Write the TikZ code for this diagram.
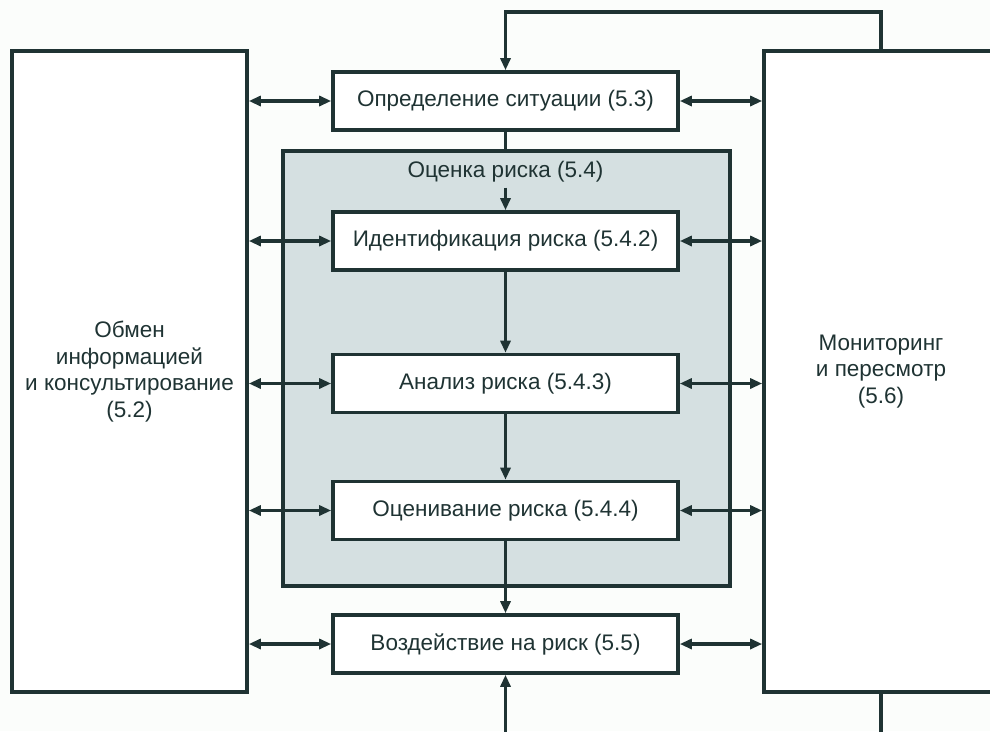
\documentclass[tikz,border=0pt]{standalone}
\usepackage{fontspec}
\setmainfont{Liberation Sans}
\usetikzlibrary{arrows.meta}
\definecolor{myline}{RGB}{31,51,51}
\definecolor{mygrey}{RGB}{213,224,225}
\definecolor{mypaper}{RGB}{251,253,251}

\begin{document}
\begin{tikzpicture}[x=1pt,y=-1pt,line width=3.6pt,
  BoxStyle/.style={draw=myline,fill=white,minimum width=345pt,minimum height=58pt,inner sep=0pt},
  SideStyle/.style={draw=myline,fill=white,align=center,inner sep=0pt},
  EdgeStyle/.style={draw=myline,-{Triangle[length=12pt,width=10pt]}},
  TwoWay/.style={draw=myline,{Triangle[length=12pt,width=10pt]}-{Triangle[length=12pt,width=10pt]}},
  font=\fontsize{22.5}{26.7}\selectfont,text=myline]
\fill[mypaper] (0,0) rectangle (990,731);
\useasboundingbox (0,0) rectangle (990,731);
\node[SideStyle,minimum width=235pt,minimum height=641pt] (inform) at (129.5,371.5)
  {Обмен\\информацией\\и консультирование\\(5.2)};
\node[SideStyle,minimum width=234pt,minimum height=641pt] (monitor) at (881,371.5)
  {Мониторинг\\и пересмотр\\(5.6)};
\draw[draw=myline,fill=mygrey] (283,151) rectangle (730,586);
\node (assess) at (505.5,172) {Оценка риска (5.4)};
\node[BoxStyle] (context) at (505.5,101) {Определение ситуации (5.3)};
\node[BoxStyle] (ident) at (505.5,241) {Идентификация риска (5.4.2)};
\node[BoxStyle] (analys) at (505.5,383.5) {Анализ риска (5.4.3)};
\node[BoxStyle] (evalu) at (505.5,510.5) {Оценивание риска (5.4.4)};
\node[BoxStyle] (treat) at (505.5,644) {Воздействие на риск (5.5)};
\coordinate (looptop) at (881,12);
\coordinate (bottomin) at (505.5,740);
\coordinate (bottomout) at (881,740);
\draw[EdgeStyle] (monitor.north) -- (looptop) -| (context.north);
\draw[draw=myline] (context.south) -- (context.south |- 0,151);
\draw[EdgeStyle] (assess.south) -- (ident.north);
\draw[EdgeStyle] (ident) -- (analys);
\draw[EdgeStyle] (analys) -- (evalu);
\draw[EdgeStyle] (evalu) -- (treat);
\draw[EdgeStyle] (bottomin) -- (treat.south);
\draw[draw=myline] (monitor.south) -- (bottomout);
\foreach \b in {context,ident,analys,evalu,treat}{
  \draw[TwoWay] (inform.east |- \b.west) -- (\b.west);
  \draw[TwoWay] (\b.east) -- (monitor.west |- \b.east);
}
\end{tikzpicture}
\end{document}
